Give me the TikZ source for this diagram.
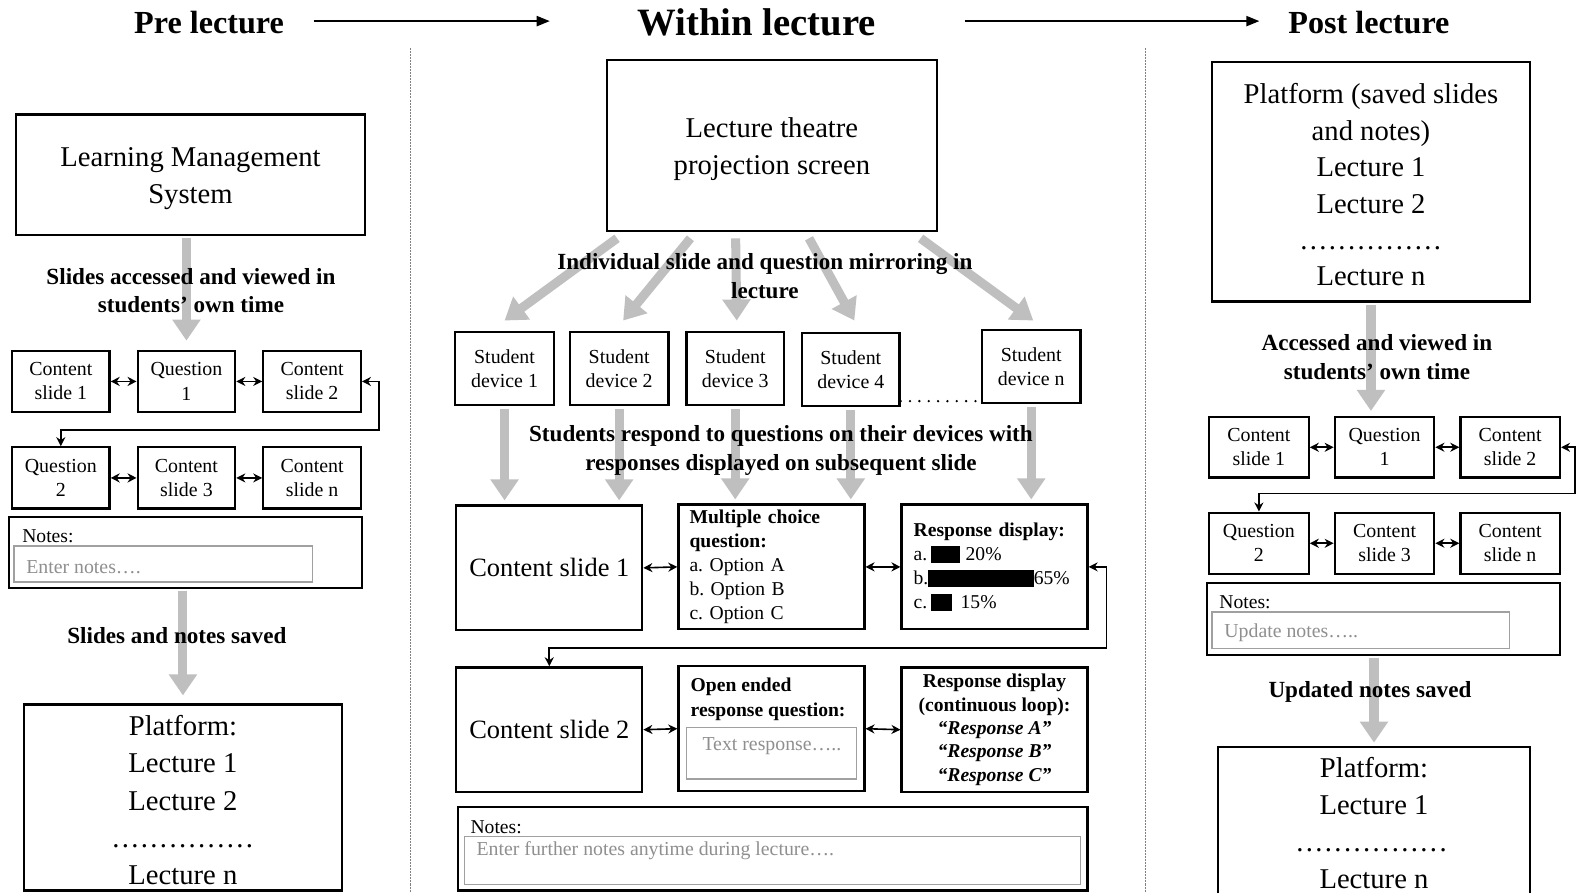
\documentclass[tikz,border=0pt]{standalone}
\usepackage{fontspec}
\setmainfont{Liberation Serif}
\usetikzlibrary{arrows.meta,calc}
\definecolor{arrgray}{HTML}{BFBFBF}
\definecolor{phgray}{HTML}{8F8F8F}
\definecolor{bxgray}{HTML}{A0A0A0}
\definecolor{sepgray}{HTML}{808080}
\newcommand\FS[2]{\fontsize{#1pt}{#2pt}\selectfont}
\newcommand\dotrow[1]{\makebox[#1pt]{\leaders\hbox to 9.5pt{\hss.\hss}\hfill}}
\frenchspacing
\begin{document}
\begin{tikzpicture}[x=1pt,y=-1pt,
  box/.style={draw=black,line width=2.2pt,inner sep=0pt,align=center},
  small/.style={box,minimum width=97pt,minimum height=61pt,font=\FS{19.8}{24}},
  dev/.style={box,minimum width=98pt,minimum height=73pt,font=\FS{19.8}{24}},
  mbox/.style={box,minimum width=185pt,minimum height=124pt},
  big/.style={box,font=\FS{28.5}{36.5}},
  bigtext/.style={inner sep=0pt,align=center,font=\FS{28.5}{37}},
  inbox/.style={draw=bxgray,line width=1.5pt,inner sep=0pt},
  phtext/.style={text=phgray,font=\FS{19.7}{23},inner sep=0pt},
  notelbl/.style={font=\FS{19.5}{23},inner sep=0pt},
  gar/.style={draw=arrgray,line width=9pt,-{Triangle[width=27pt,length=21pt]}},
  dar/.style={line width=1.6pt,{Stealth[length=9pt,width=9pt]}-{Stealth[length=9pt,width=9pt]}},
  tarr/.style={line width=2pt,-{Triangle[length=13pt,width=10pt]}},
  lbl/.style={font=\FS{23}{28.5}\bfseries,align=center,inner sep=0pt},
  vsep/.style={draw=sepgray,line width=0.9pt,dash pattern=on 2pt off 1pt},
  title/.style={inner sep=0pt}
]
\fill[white] (0,0) rectangle (1568,888);
\useasboundingbox (0,0) rectangle (1568,888);

% titles
\node[title,font=\FS{32}{36}\bfseries] (tpre) at (208,22) {Pre lecture};
\node[title,font=\FS{38.5}{42}\bfseries] (twithin) at (753,22) {Within lecture};
\node[title,font=\FS{32}{36}\bfseries] (tpost) at (1362,22) {Post lecture};
\coordinate (ta1) at (312,21);
\coordinate (ta2) at (547,21);
\coordinate (ta3) at (960,21);
\coordinate (ta4) at (1253,21);
\draw[tarr] (ta1) -- (ta2);
\draw[tarr] (ta3) -- (ta4);

% separators
\draw[vsep] (408,48) -- (408,888);
\draw[vsep] (1140,48) -- (1140,888);

% ---------------- left column
\node[box,minimum width=347pt,minimum height=120pt] (lms) at (189.5,174) {};
\node[bigtext] (lmsT) at (189.5,178) {Learning Management\\System};
\node[small] (lcs1) at (60.5,379.5) {Content\\slide 1};
\node[small] (lq1) at (185.5,379.5) {Question\\1};
\node[small] (lcs2) at (310.5,379.5) {Content\\slide 2};
\node[small] (lq2) at (60.5,475.5) {Question\\2};
\node[small] (lcs3) at (185.5,475.5) {Content\\slide 3};
\node[small] (lcsn) at (310.5,475.5) {Content\\slide n};
\node[box,minimum width=351pt,minimum height=71pt] (lnotes) at (184.5,549.5) {};
\node[notelbl,anchor=west] (lnotesT) at (22,533) {Notes:};
\node[inbox,minimum width=297pt,minimum height=36pt] (lnotesB) at (162.5,561) {};
\node[phtext,anchor=west] (lnotesP) at (26,564) {Enter notes….};
\node[big,minimum width=316pt,minimum height=185pt] (lplat) at (182,793.5) {};
\node[bigtext] (lplatT) at (182,796) {Platform:\\Lecture 1\\Lecture 2\\\dotrow{143}\\Lecture n};

\draw[gar,shorten <=2pt,shorten >=9pt] (lms.south -| lq1.north) -- (lq1.north);
\draw[gar,shorten <=2pt,shorten >=8pt] (lnotes.south -| lplat.north) -- (lplat.north);
\draw[dar] (lcs1.east) -- (lq1.west);
\draw[dar] (lq1.east) -- (lcs2.west);
\draw[dar] (lq2.east) -- (lcs3.west);
\draw[dar] (lcs3.east) -- (lcsn.west);
\coordinate (lloop) at (377,428);
\draw[dar] (lcs2.east) -| (lloop) -| (lq2.north);

\node[lbl] (llab1) at (190,289) {Slides accessed and viewed in\\students’ own time};
\node[lbl] (llab2) at (176,632) {Slides and notes saved};

% ---------------- middle column
\node[box,minimum width=328pt,minimum height=170pt] (lt) at (768,145) {};
\node[bigtext] (ltT) at (768,148) {Lecture theatre\\projection screen};
\node[dev] (sd1) at (502,366.5) {Student\\device 1};
\node[dev] (sd2) at (616,366.5) {Student\\device 2};
\node[dev,minimum width=97pt] (sd3) at (731.5,366.5) {Student\\device 3};
\node[dev,minimum width=97pt] (sd4) at (846.5,367.5) {Student\\device 4};
\node[dev] (sdn) at (1026,364.5) {Student\\device n};

\node[mbox,font=\FS{26.3}{30}] (mcs1) at (546.5,565) {Content slide 1};
\node[mbox,font=\FS{19.5}{24},text width=163pt,align=left] (mcq) at (767.5,564) {\textbf{Multiple choice}\\\textbf{question:}\\a. Option A\\b. Option B\\c. Option C};
\node[mbox,font=\FS{19.5}{24},text width=161pt,align=left] (rd) at (989.5,564) {\textbf{Response display:}\\a.\,\rule[-2pt]{29pt}{17pt}\hspace{6pt}20\%\\b.\rule[-2pt]{105pt}{17pt}65\%\\c.\,\rule[-2pt]{21pt}{17pt}\hspace{9pt}15\%};

\node[mbox,font=\FS{26.3}{30}] (mcs2) at (546.5,726) {Content slide 2};
\node[mbox] (oe) at (767.5,725) {};
\node[font=\FS{19.5}{25}\bfseries,align=left,anchor=west,inner sep=0pt] (oeT) at (687,696) {Open ended\\response question:};
\node[inbox,minimum width=169pt,minimum height=51pt] (oeB) at (767.5,749.5) {};
\node[phtext] (oeP) at (768,742) {Text response…..};
\node[mbox,font=\FS{19.5}{23.3}\bfseries] (rd2) at (989.5,726) {Response display\\(continuous loop):\\\textit{“Response A”}\\\textit{“Response B”}\\\textit{“Response C”}};

\node[box,minimum width=626pt,minimum height=83pt] (mnotes) at (769,844.5) {};
\node[notelbl,anchor=west] (mnotesT) at (468,823) {Notes:};
\node[inbox,minimum width=613pt,minimum height=48pt] (mnotesB) at (768.5,856) {};
\node[phtext,anchor=west] (mnotesP) at (474,846) {Enter further notes anytime during lecture….};

\draw[gar] ($(lt.south west)+(11,6)$) -- ([yshift=10pt]sd1.north);
\draw[gar] ($(lt.south west)+(84,6)$) -- ([xshift=4pt,yshift=10pt]sd2.north);
\draw[gar] ($(lt.south west)+(129,6)$) -- ([xshift=1.5pt,yshift=10pt]sd3.north);
\draw[gar] ($(lt.south west)+(202,6)$) -- ([xshift=3.5pt,yshift=11pt]sd4.north);
\draw[gar] ($(lt.south west)+(313,6)$) -- ([xshift=2pt,yshift=8pt]sdn.north);

\draw[gar,shorten <=3pt,shorten >=4pt] (sd1.south) -- (sd1.south |- mcs1.north);
\draw[gar,shorten <=3pt,shorten >=4pt] (sd2.south) -- (sd2.south |- mcs1.north);
\draw[gar,shorten <=3pt,shorten >=4pt] (sd3.south) -- (sd3.south |- mcq.north);
\draw[gar,shorten <=3pt,shorten >=4pt] (sd4.south) -- (sd4.south |- mcq.north);
\draw[gar,shorten <=3pt,shorten >=4pt] (sdn.south) -- (sdn.south |- rd.north);

\draw[line width=2.6pt,line cap=round,dash pattern=on 0pt off 9.3pt] ([yshift=6pt]sd4.south east) -- ([yshift=6pt]sd4.south east -| sdn.west);

\draw[dar] (mcs1.east) -- (mcq.west);
\draw[dar] (mcq.east) -- (rd.west);
\draw[dar] (mcs2.east) -- (oe.west);
\draw[dar] (oe.east) -- (rd2.west);
\coordinate (mloop) at (1101,645);
\draw[dar] (rd.east) -| (mloop) -| (mcs2.north);

\node[lbl] (mlab1) at (761,275) {Individual slide and question mirroring in\\lecture};
\node[lbl] (mlab2) at (777,448) {Students respond to questions on their devices with\\responses displayed on subsequent slide};

% ---------------- right column
\node[box,minimum width=316pt,minimum height=238pt] (rplat) at (1364,181) {};
\node[bigtext,font=\FS{28.5}{36.2}] (rplatT) at (1364,184) {Platform (saved slides\\and notes)\\Lecture 1\\Lecture 2\\\dotrow{143}\\Lecture n};
\node[small,minimum width=99pt,minimum height=60pt] (rcs1) at (1252.5,445) {Content\\slide 1};
\node[small,minimum width=99pt,minimum height=60pt] (rq1) at (1377.5,445) {Question\\1};
\node[small,minimum width=99pt,minimum height=60pt] (rcs2) at (1502.5,445) {Content\\slide 2};
\node[small,minimum width=99pt] (rq2) at (1252.5,540.5) {Question\\2};
\node[small,minimum width=99pt] (rcs3) at (1377.5,540.5) {Content\\slide 3};
\node[small,minimum width=99pt] (rcsn) at (1502.5,540.5) {Content\\slide n};
\node[box,minimum width=351pt,minimum height=72pt] (rnotes) at (1376.5,616) {};
\node[notelbl,anchor=west] (rnotesT) at (1213,599) {Notes:};
\node[inbox,minimum width=296pt,minimum height=36pt] (rnotesB) at (1354,627) {};
\node[phtext,anchor=west] (rnotesP) at (1218,630) {Update notes…..};
\node[box,minimum width=310pt,minimum height=148pt] (rplat2) at (1367,817) {};
\node[bigtext] (rplat2T) at (1367,819) {Platform:\\Lecture 1\\\dotrow{157}\\Lecture n};

\draw[gar,shorten <=2pt,shorten >=5pt] (rplat.south) -- (rplat.south |- rq1.north);
\draw[gar,shorten <=2pt,shorten >=3pt] (rnotes.south -| rplat2.north) -- (rplat2.north);
\draw[dar] (rcs1.east) -- (rq1.west);
\draw[dar] (rq1.east) -- (rcs2.west);
\draw[dar] (rq2.east) -- (rcs3.west);
\draw[dar] (rcs3.east) -- (rcsn.west);
\coordinate (rloop) at (1567,491);
\draw[dar] (rcs2.east) -| (rloop) -| (rq2.north);

\node[lbl] (rlab1) at (1370,355) {Accessed and viewed in\\students’ own time};
\node[lbl] (rlab2) at (1363,688) {Updated notes saved};
\end{tikzpicture}
\end{document}
